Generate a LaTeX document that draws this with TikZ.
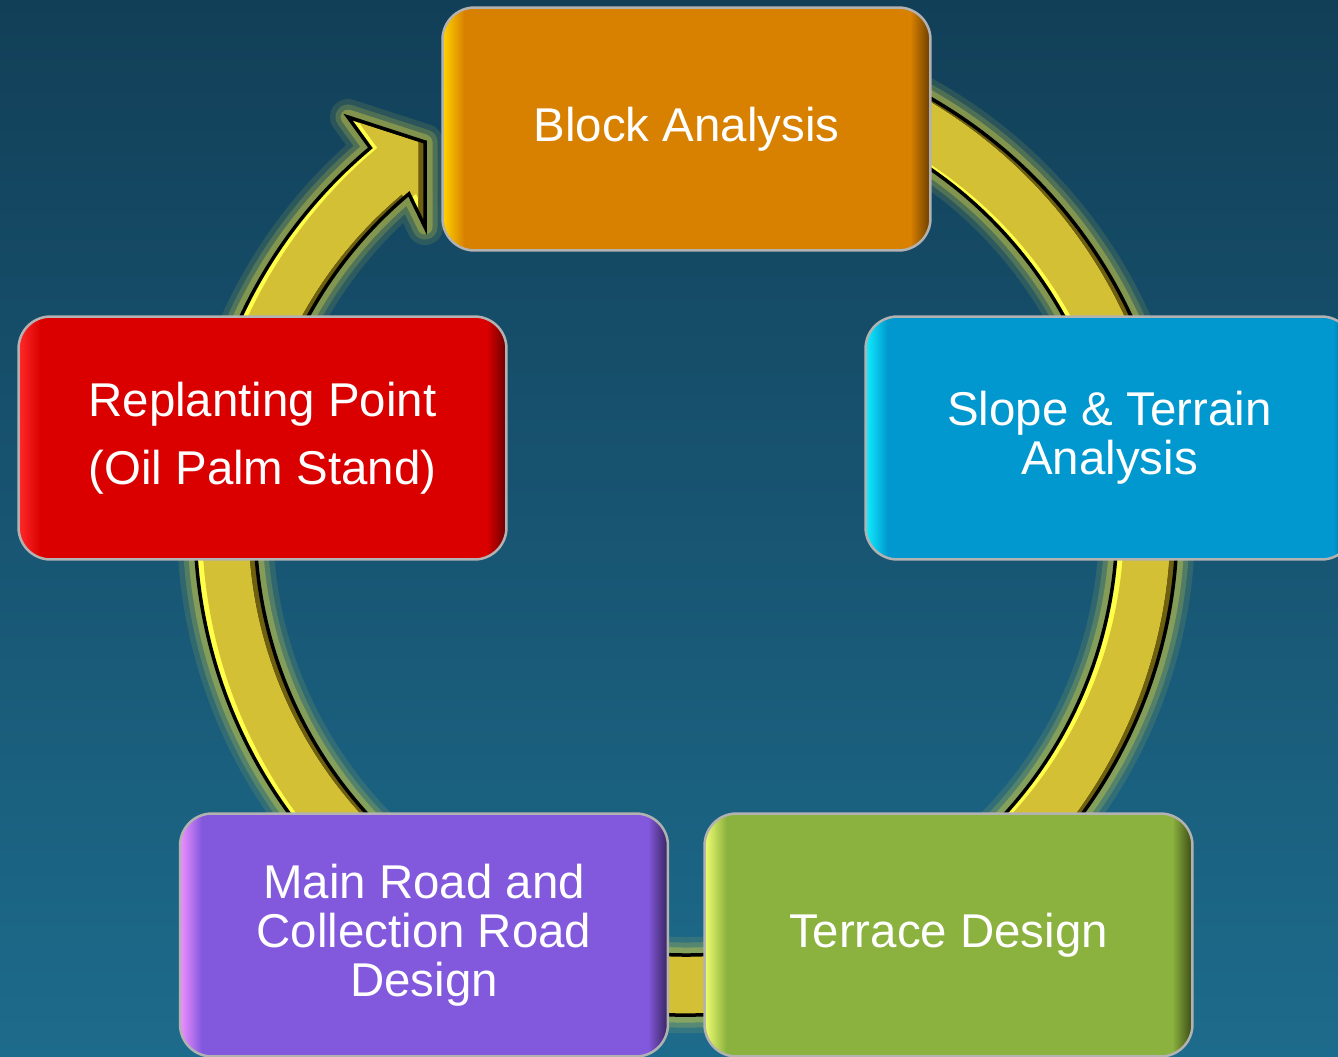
\documentclass[tikz,border=0pt]{standalone}
\usepackage{fontspec}
\setmainfont{Liberation Sans}
\definecolor{bgtop}{HTML}{123F58}
\definecolor{bgbot}{HTML}{1D6B8C}
\definecolor{ringmain}{HTML}{D4C035}
\definecolor{ringlight}{HTML}{FFFF4A}
\definecolor{ringdark}{HTML}{6E6010}
\definecolor{ringglow}{HTML}{E0D840}
\definecolor{orM}{HTML}{D88000}\definecolor{orL}{HTML}{FFD400}\definecolor{orD}{HTML}{6A3E00}
\definecolor{blM}{HTML}{0098CE}\definecolor{blL}{HTML}{10F0FF}\definecolor{blD}{HTML}{004A68}
\definecolor{rdM}{HTML}{DA0000}\definecolor{rdL}{HTML}{FF2A2A}\definecolor{rdD}{HTML}{6A0000}
\definecolor{puM}{HTML}{8258DC}\definecolor{puL}{HTML}{F090FF}\definecolor{puD}{HTML}{38245E}
\definecolor{grM}{HTML}{8BB13F}\definecolor{grL}{HTML}{F0FF70}\definecolor{grD}{HTML}{3A4A14}
\newcommand{\ringpath}{(130:491) -- (-338,407) -- (-261,382) -- (-261,297) -- (130:431)
  arc[start angle=130,end angle=460,radius=431] -- (460:491)
  arc[start angle=460,end angle=130,radius=491] -- cycle}
\tikzset{
  stepbox/.style n args={3}{draw=gray!60, line width=0.05cm, rounded corners=0.64cm,
    minimum width=9.76cm, minimum height=4.86cm, fill=#1, text=white, align=center,
    font=\fontsize{27pt}{28pt}\selectfont, inner sep=0pt,
    path picture={
      \shade[sharp corners, top color=#1, bottom color=#1]
        ([yshift=0.2cm]path picture bounding box.south west) rectangle (path picture bounding box.south east);
      \shade[sharp corners, left color=#2, right color=#1]
        (path picture bounding box.south west) rectangle ([xshift=0.44cm]path picture bounding box.north west);
      \shade[sharp corners, left color=#1, right color=#3]
        ([xshift=-0.4cm]path picture bounding box.south east) rectangle (path picture bounding box.north east);
    }},
  glow/.style={draw=ringglow, line join=round}
}
\begin{document}
\begin{tikzpicture}[x=0.02cm, y=0.02cm]
\useasboundingbox (0,0) rectangle (1338,-1056);
\clip (0,0) rectangle (1338,-1056);
\fill[top color=bgtop, bottom color=bgbot] (0,0) rectangle (1338,-1056);
\coordinate (c) at (686,-524);
% glow
\path[glow, line width=0.72cm, draw opacity=0.12, shift={(c)}] \ringpath;
\path[glow, line width=0.50cm, draw opacity=0.20, shift={(c)}] \ringpath;
\path[glow, line width=0.30cm, draw opacity=0.35, shift={(c)}] \ringpath;
% ring band with bevel
\begin{scope}
  \clip[shift={(c)}] \ringpath;
  \fill[ringdark, shift={(c)}] \ringpath;
  \fill[ringlight, shift={(c)}, xshift=-0.14cm] \ringpath;
  \begin{scope}
    \clip[shift={(c)}, xshift=-0.14cm] \ringpath;
    \fill[ringmain, shift={(c)}, xshift=0.14cm] \ringpath;
  \end{scope}
\end{scope}
\draw[black, line width=0.07cm, line join=miter, shift={(c)}] \ringpath;
% boxes
\node[stepbox={orM}{orL}{orD}] (block) at (686.5,-129) {Block Analysis};
\node[stepbox={blM}{blL}{blD}] (slope) at (1109.5,-438) {Slope \& Terrain\\Analysis};
\node[stepbox={rdM}{rdL}{rdD}] (replant) at (262.5,-438) {Replanting Point\\[10.5pt](Oil Palm Stand)};
\node[stepbox={puM}{puL}{puD}] (road) at (424,-935) {Main Road and\\Collection Road\\Design};
\node[stepbox={grM}{grL}{grD}] (terrace) at (948.5,-935) {Terrace Design};
\end{tikzpicture}
\end{document}
